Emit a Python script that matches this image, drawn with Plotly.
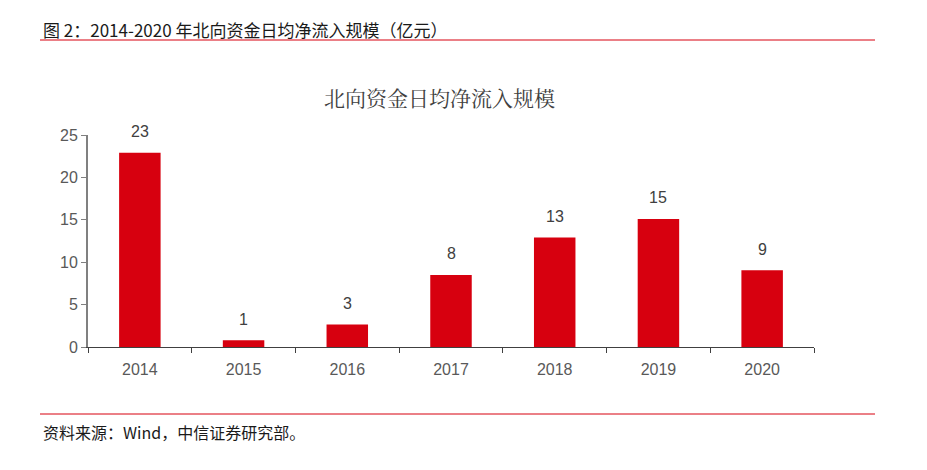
import plotly.graph_objects as go

years = ["2014", "2015", "2016", "2017", "2018", "2019", "2020"]
values = [22.9, 0.8, 2.65, 8.5, 12.9, 15.1, 9.05]
labels = ["23", "1", "3", "8", "13", "15", "9"]
y_ticks = [0, 5, 10, 15, 20, 25]

header = "图 2：2014-2020 年北向资金日均净流入规模（亿元）"
chart_title = "北向资金日均净流入规模"
source = "资料来源：Wind，中信证券研究部。"

red = "#D7000F"
font_cjk = "Noto Sans CJK SC, Arial, sans-serif"

# plot area target (page px): x 88..814, y 135..347 ; page has 8px body offset
PL, PR, PT, PB = 88, 814, 135, 347
PW, PH = PR - PL, PB - PT

def px(x):
    return (x - PL) / PW

def py(y):
    return (PB - y) / PH

fig = go.Figure()
fig.add_trace(go.Bar(
    x=years, y=values,
    marker=dict(color=red, line=dict(width=0)),
    width=0.4,
))

fig.update_layout(
    width=927, height=470,
    margin=dict(l=PL - 8, r=927 + 8 - PR, t=PT - 8, b=470 + 8 - PB),
    paper_bgcolor="white", plot_bgcolor="white",
    showlegend=False,
    xaxis=dict(
        type="category", categoryorder="array", categoryarray=years,
        showline=True, linecolor="#404040", linewidth=1,
        ticks="outside", tickson="boundaries", ticklen=5, tickcolor="#404040",
        ticklabelstandoff=8,
        tickfont=dict(family="Arial, Liberation Sans", size=16, color="#595959"),
        showgrid=False,
    ),
    yaxis=dict(
        range=[0, 25], tickvals=y_ticks,
        showline=True, linecolor="#808080", linewidth=2,
        ticks="outside", ticklen=5, tickcolor="#808080",
        tickfont=dict(family="Arial, Liberation Sans", size=16, color="#595959"),
        showgrid=False, zeroline=False,
    ),
)

# value labels above bars (category index positions)
for i, (v, lab) in enumerate(zip(values, labels)):
    fig.add_annotation(x=i, y=v, xref="x", yref="y", text=lab, showarrow=False,
                       yanchor="middle", yshift=21,
                       font=dict(family="Arial, Liberation Sans", size=16, color="#404040"))

fig.add_annotation(text=header, xref="paper", yref="paper",
                   x=px(41), y=py(29),
                   xanchor="left", yanchor="middle", showarrow=False,
                   font=dict(family=font_cjk, size=17, color="#1a1a1a"))
fig.add_annotation(text=chart_title, xref="paper", yref="paper",
                   x=px(439), y=py(97),
                   xanchor="center", yanchor="middle", showarrow=False,
                   font=dict(family="Noto Serif CJK SC, Noto Sans CJK SC, serif", size=21, color="#404040"))
fig.add_annotation(text=source, xref="paper", yref="paper",
                   x=px(41), y=py(432),
                   xanchor="left", yanchor="middle", showarrow=False,
                   font=dict(family=font_cjk, size=16, color="#1a1a1a"))

# header / footer rules
for yy in (40, 414):
    fig.add_shape(type="line", xref="paper", yref="paper",
                  x0=px(40), x1=px(875), y0=py(yy), y1=py(yy),
                  line=dict(color=red, width=1))

fig.write_html("out.html")
